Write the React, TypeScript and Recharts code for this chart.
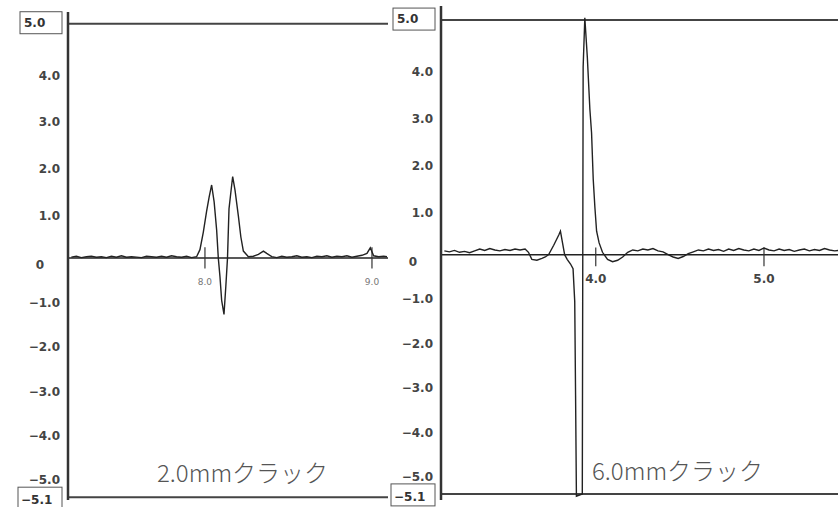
import React from "react";
import { LineChart, Line, XAxis, YAxis, ReferenceLine } from "recharts";

// 2.0mm crack trace
const leftX = [
  7.2, 7.23, 7.26, 7.29, 7.32, 7.35, 7.38, 7.41, 7.44, 7.47, 7.5, 7.53, 7.56, 7.59, 7.62, 7.65, 7.68, 7.71,
  7.74, 7.77, 7.8, 7.83, 7.86, 7.89, 7.92, 7.95, 7.97, 7.99, 8.01, 8.025, 8.04, 8.055, 8.07, 8.08, 8.09, 8.1,
  8.114, 8.125, 8.135, 8.144, 8.155, 8.166, 8.18, 8.2, 8.215, 8.23, 8.26, 8.29, 8.32, 8.35, 8.37, 8.4, 8.43,
  8.46, 8.49, 8.52, 8.55, 8.58, 8.61, 8.64, 8.67, 8.7, 8.73, 8.76, 8.79, 8.82, 8.85, 8.88, 8.91, 8.94, 8.97,
  8.99, 9.01, 9.04, 9.07, 9.09,
];
const leftY = [
  0.02, 0.04, 0.01, 0.03, 0.04, 0.02, 0.03, 0.01, 0.04, 0.02, 0.05, 0.02, 0.03, 0.02, 0.01, 0.04, 0.03, 0.02,
  0.04, 0.02, 0.05, 0.03, 0.02, 0.04, 0.01, 0.03, 0.18, 0.55, 1.0, 1.3, 1.56, 1.2, 0.6, 0.0, -0.4, -0.9,
  -1.2, -0.6, 0.0, 1.05, 1.4, 1.74, 1.45, 0.9, 0.45, 0.15, 0.03, 0.04, 0.08, 0.15, 0.1, 0.03, 0.01,
  0.04, 0.02, 0.03, 0.05, 0.02, 0.03, 0.01, 0.04, 0.03, 0.05, 0.02, 0.04, 0.03, 0.05, 0.02, 0.04, 0.06, 0.1,
  0.22, 0.05, 0.03, 0.04, 0.03,
];

// 6.0mm crack trace
const rightX = [
  3.1, 3.13, 3.16, 3.19, 3.22, 3.25, 3.28, 3.31, 3.34, 3.37, 3.4, 3.43, 3.46, 3.49, 3.52, 3.55, 3.58, 3.6,
  3.62, 3.65, 3.68, 3.7, 3.72, 3.75, 3.78, 3.79, 3.8, 3.815, 3.83, 3.85, 3.865, 3.875, 3.88, 3.885, 3.92,
  3.925, 3.935, 3.95, 3.965, 3.975, 3.985, 3.995, 4.005, 4.02, 4.04, 4.07, 4.1, 4.13, 4.16, 4.19, 4.22, 4.25,
  4.28, 4.31, 4.34, 4.37, 4.4, 4.43, 4.46, 4.49, 4.52, 4.55, 4.58, 4.61, 4.64, 4.67, 4.7, 4.73, 4.76, 4.79,
  4.82, 4.85, 4.88, 4.91, 4.94, 4.97, 5.0, 5.03, 5.06, 5.09, 5.12, 5.15, 5.18, 5.21, 5.24, 5.27, 5.3, 5.33,
  5.36, 5.39, 5.42, 5.44,
];
const rightY = [
  0.08, 0.06, 0.09, 0.05, 0.07, 0.04, 0.08, 0.12, 0.09, 0.13, 0.1, 0.08, 0.11, 0.09, 0.12, 0.1, 0.12, 0.05,
  -0.1, -0.12, -0.08, -0.05, 0.0, 0.2, 0.42, 0.5, 0.3, 0.0, -0.1, -0.2, -0.3, -1.0, -3.0, -5.15, -5.1,
  4.0, 5.05, 4.2, 3.1, 2.6, 1.6, 1.0, 0.5, 0.25, 0.05, -0.1, -0.15, -0.12, -0.05, 0.05, 0.1, 0.08,
  0.12, 0.1, 0.13, 0.08, 0.06, 0.0, -0.05, -0.08, -0.04, 0.02, 0.06, 0.1, 0.08, 0.12, 0.09, 0.11, 0.07, 0.12,
  0.09, 0.13, 0.1, 0.08, 0.12, 0.09, 0.14, 0.1, 0.08, 0.12, 0.09, 0.11, 0.07, 0.1, 0.12, 0.08, 0.11, 0.09,
  0.13, 0.1, 0.08, 0.09,
];

const yTicks = [5, 4, 3, 2, 1, 0, -1, -2, -3, -4, -5, -5.1];
const leftXTicks = [8, 9];
const rightXTicks = [4, 5];
const leftTitle = "2.0mmクラック";
const rightTitle = "6.0mmクラック";

const leftData = leftX.map((x, i) => ({ x, y: leftY[i] }));
const rightData = rightX.map((x, i) => ({ x, y: rightY[i] }));

const tickFont = "DejaVu Sans, sans-serif";

const fmt = (v: number) => (v < 0 ? "\u2212" + Math.abs(v).toFixed(1) : v.toFixed(1));

const YTick = (props: any) => {
  const { x, y, payload } = props;
  const v = payload.value as number;
  if (v === 5) {
    return (
      <g>
        <rect x={x - 48} y={y - 12} width={42} height={22} fill="#fff" stroke="#555" strokeWidth={1} />
        <text x={x - 44} y={y - 1} dominantBaseline="central" fontSize={12} fontWeight="bold" fontFamily={tickFont} fill="#333">
          5.0
        </text>
      </g>
    );
  }
  if (v === -5.1) {
    return (
      <g>
        <rect x={x - 50} y={y - 10} width={44} height={22} fill="#fff" stroke="#555" strokeWidth={1} />
        <text x={x - 47} y={y + 3} dominantBaseline="central" fontSize={12} fontWeight="bold" fontFamily={tickFont} fill="#333">
          {fmt(v)}
        </text>
      </g>
    );
  }
  if (v === 0) {
    return (
      <text x={x - 28} y={y + 7} textAnchor="middle" dominantBaseline="central" fontSize={12} fontWeight="bold" fontFamily={tickFont} fill="#444">
        0
      </text>
    );
  }
  const dy = v > 0 ? 5 : v * 2.4;
  return (
    <text x={x - 8} y={y + dy} textAnchor="end" dominantBaseline="central" fontSize={12} fontWeight="bold" fontFamily={tickFont} fill="#444">
      {fmt(v)}
    </text>
  );
};

const titleStyle: React.CSSProperties = {
  position: "absolute",
  fontFamily: "'Noto Sans CJK JP', sans-serif",
  fontSize: 24,
  fontWeight: 300,
  color: "#555",
  lineHeight: "28px",
  whiteSpace: "nowrap",
};

export default function App() {
  return (
    <div style={{ position: "absolute", left: 0, top: 0, width: 838, height: 507, background: "#fff", overflow: "hidden" }}>
      <div style={{ position: "absolute", left: 0, top: 0 }}>
        <LineChart width={400} height={507} data={leftData} margin={{ top: 12, right: 12, bottom: 7, left: 0 }}>
          <XAxis dataKey="x" type="number" domain={[7.18, 9.096]} hide />
          <YAxis
            type="number"
            domain={[-5.16, 5.25]}
            ticks={yTicks}
            interval={0}
            width={68}
            tickSize={0}
            tickMargin={0}
            tickLine={false}
            axisLine={{ stroke: "#333", strokeWidth: 2.5 }}
            tick={YTick}
            allowDataOverflow
          />
          <ReferenceLine y={5} stroke="#444" strokeWidth={2} />
          <ReferenceLine y={-5.1} stroke="#444" strokeWidth={2} />
          <ReferenceLine y={0} stroke="#222" strokeWidth={1.5} />
          {leftXTicks.map((t) => (
            <ReferenceLine
              key={t}
              segment={[
                { x: t, y: 0.23 },
                { x: t, y: -0.22 },
              ]}
              stroke="#333"
              strokeWidth={1.2}
              label={{ value: t.toFixed(1), position: "bottom", offset: 10, fontSize: 9, fill: "#777", fontFamily: tickFont }}
            />
          ))}
          <Line type="linear" dataKey="y" stroke="#222" strokeWidth={1.4} dot={false} isAnimationActive={false} />
        </LineChart>
      </div>
      <div style={{ position: "absolute", left: 371, top: 0 }}>
        <LineChart width={467} height={507} data={rightData} margin={{ top: 6, right: 0, bottom: 7, left: 0 }}>
          <XAxis dataKey="x" type="number" domain={[3.08, 5.44]} hide />
          <YAxis
            type="number"
            domain={[-5.23, 5.3]}
            ticks={yTicks}
            interval={0}
            width={70}
            tickSize={0}
            tickMargin={0}
            tickLine={false}
            axisLine={{ stroke: "#333", strokeWidth: 2.5 }}
            tick={YTick}
            allowDataOverflow
          />
          <ReferenceLine y={5} stroke="#444" strokeWidth={2} />
          <ReferenceLine y={-5.1} stroke="#444" strokeWidth={2} />
          <ReferenceLine y={0} stroke="#222" strokeWidth={1.5} />
          {rightXTicks.map((t) => (
            <ReferenceLine
              key={t}
              segment={[
                { x: t, y: 0.15 },
                { x: t, y: -0.25 },
              ]}
              stroke="#333"
              strokeWidth={1.2}
              label={{ value: t.toFixed(1), position: "bottom", offset: 8, fontSize: 12, fontWeight: "bold", fill: "#444", fontFamily: tickFont }}
            />
          ))}
          <Line type="linear" dataKey="y" stroke="#222" strokeWidth={1.4} dot={false} isAnimationActive={false} />
        </LineChart>
      </div>
      <div style={{ ...titleStyle, left: 157, top: 458 }}>{leftTitle}</div>
      <div style={{ ...titleStyle, left: 592, top: 456 }}>{rightTitle}</div>
    </div>
  );
}
